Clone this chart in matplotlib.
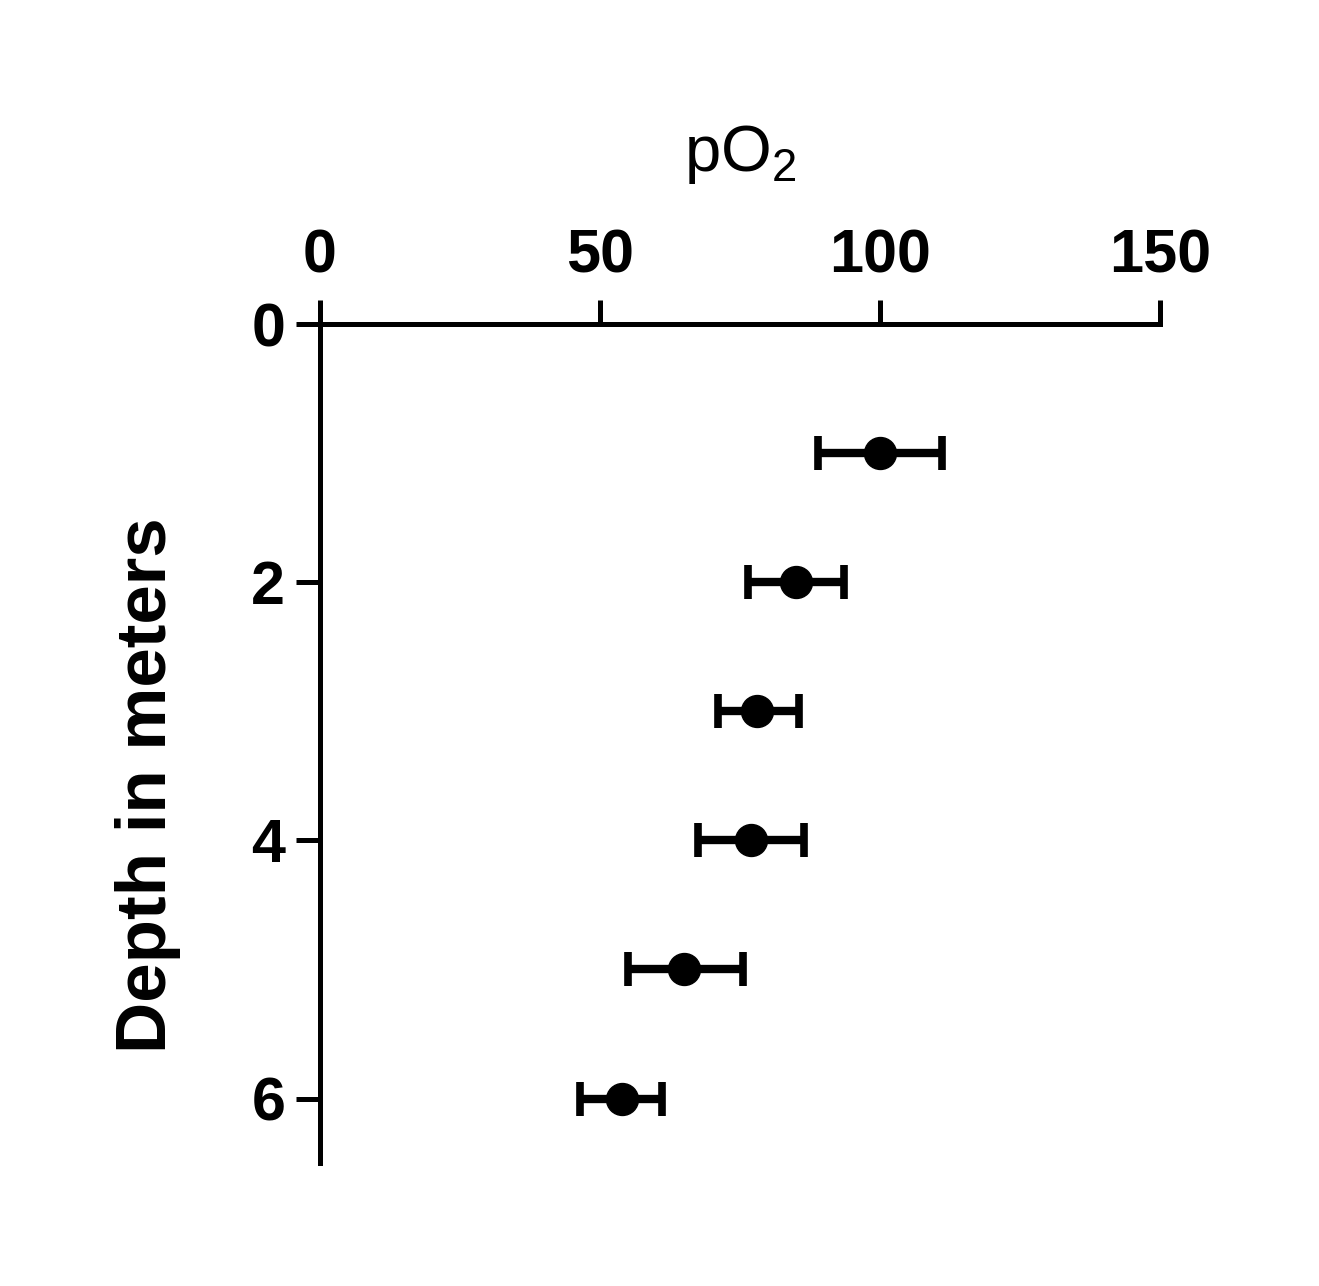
import numpy as np
import matplotlib.pyplot as plt

plt.rcParams['font.family'] = ['Liberation Sans', 'DejaVu Sans']
plt.rcParams['mathtext.fontset'] = 'custom'
plt.rcParams['mathtext.rm'] = 'Liberation Sans'

depth = [1, 2, 3, 4, 5, 6]
po2 = [100, 85, 78, 77, 65, 54]
err_lo = [11, 8.5, 7, 9.5, 10, 7.5]
err_hi = [11, 8.5, 7.5, 9.5, 10.5, 7]

x_ticks = [0, 50, 100, 150]
y_ticks = [0, 2, 4, 6]

fig = plt.figure(figsize=(13.19, 12.86), dpi=100)
ax = fig.add_axes([0.2426, 0.0956, 0.6369, 0.6524])

ax.errorbar(po2, depth, xerr=[err_lo, err_hi], fmt='o', color='black',
            markersize=23, elinewidth=6, capsize=12, capthick=5.5, clip_on=False)

ax.set_xlim(0, 150)
ax.set_ylim(6.5, 0)
ax.set_xticks(x_ticks)
ax.set_yticks(y_ticks)

ax.xaxis.tick_top()
ax.xaxis.set_label_position('top')
for s in ['right', 'bottom']:
    ax.spines[s].set_visible(False)
for s in ['top', 'left']:
    ax.spines[s].set_linewidth(3.6)

ax.tick_params(axis='x', direction='out', length=17, width=3.6, pad=10.5, labelsize=44)
ax.tick_params(axis='y', direction='out', length=17, width=3.6, pad=8, labelsize=44)
for lbl in ax.get_xticklabels() + ax.get_yticklabels():
    lbl.set_fontweight('bold')

ax.set_xlabel(r'pO$_\mathregular{2}$', fontsize=47, labelpad=42)
ax.set_ylabel('Depth in meters', fontsize=51, fontweight='bold')
ax.yaxis.set_label_coords(-0.165, 0.45)

fig.savefig('out.png', dpi=100)
